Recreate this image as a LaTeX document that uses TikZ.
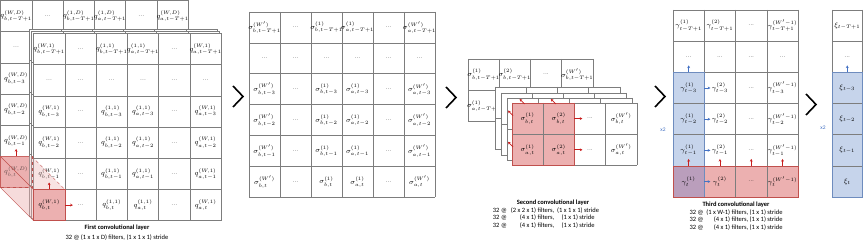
\documentclass[tikz,border=0pt]{standalone}
\usepackage{fontspec}
\usepackage{etoolbox}
\newfontfamily\capfont{Carlito}
\usetikzlibrary{arrows.meta}
\definecolor{gridgray}{RGB}{125,125,125}
\definecolor{pinkfill}{RGB}{236,176,176}
\definecolor{pinkedge}{RGB}{192,80,77}
\definecolor{arrred}{RGB}{200,30,30}
\definecolor{bluefill}{RGB}{198,212,235}
\definecolor{blueedge}{RGB}{110,140,190}
\definecolor{bluearr}{RGB}{68,114,196}
\definecolor{purplefill}{RGB}{186,158,188}
\def\cw{31.3}\def\rh{31.2}
\newcommand\dotstext{{\fontsize{5.5}{6}\selectfont ...}}
\newcommand\gridfill[4]{\fill[white] (#1,#2) rectangle ++({#3*\cw},{#4*\rh});}
\newcommand\gridlines[4]{%
  \foreach \iI in {0,...,#3} {\draw[gridline] ({#1+\iI*\cw},#2) -- ++(0,{#4*\rh});}
  \foreach \jJ in {0,...,#4} {\draw[gridline] (#1,{#2+\jJ*\rh}) -- ++({#3*\cw},0);}}
\newcommand\celltext[1]{\ifdefstring{\tM}{?}{\dotstext}{\ifdefstring{\cS}{?}{\dotstext}{#1{\cS}{\cB}{\tM}}}}
\newcommand\gridlabels[6]{%
  \foreach \tM [count=\rI from 0] in {#5} {%
    \foreach \cS/\cB [count=\cI from 0] in {#4} {%
      \node[cell] (#1-\rI-\cI) at ({#2+(\cI+0.5)*\cw},{#3+(\rI+0.5)*\rh}) {\celltext{#6}};
    }}}
\newcommand\fQD[3]{$q^{(#1,D)}_{#2,#3}$}
\newcommand\fQone[3]{$q^{(#1,1)}_{#2,#3}$}
\newcommand\fS[3]{$\sigma^{(#1)}_{#2,#3}$}
\newcommand\fSt[3]{$\sigma^{(#1)}_{#3}$}
\newcommand\fG[3]{$\gamma^{(#1)}_{#3}$}
\newcommand\fX[3]{$\xi_{#3}$}
\begin{document}
\begin{tikzpicture}[x=1pt,y=-1pt,
  gridline/.style={draw=gridgray,line width=0.6pt},
  cell/.style={inner sep=0pt,outer sep=0pt,minimum width={\cw*1pt},minimum height={\rh*1pt},font=\fontsize{7.4}{8}\selectfont},
  redarr/.style={draw=arrred,line width=0.7pt,-{Stealth[length=2.6pt,width=2.8pt]}},
  bluearrow/.style={draw=bluearr,line width=0.7pt,-{Stealth[length=2.6pt,width=2.8pt]}},
  chev/.style={draw=black,line width=1.6pt,miter limit=10},
  capt/.style={inner sep=0pt,font=\capfont\fontsize{6.5}{7.8}\selectfont},
  capttitle/.style={inner sep=0pt,font=\capfont\bfseries\fontsize{6.5}{7.8}\selectfont},
  xtwo/.style={inner sep=0pt,text=bluearr,font=\capfont\fontsize{5.5}{6}\selectfont}]
\useasboundingbox (0,0) rectangle (863,245);
\fill[white] (0,0) rectangle (863,245);
% ================= Panel 1 =================
\def\cw{31.3}\def\rh{31.2}
\gridfill{0.5}{0.5}{6}{6}
\fill[pinkfill] (0.5,156.5) rectangle ++(\cw,\rh);
\gridlines{0.5}{0.5}{6}{6}
\draw[pinkedge,line width=0.5pt] (0.5,156.5) rectangle ++(\cw,\rh);
\gridlabels{p1b}{0.5}{0.5}{W/b,?/?,1/b,1/a,?/?,W/a}{t-T+1}{\fQD}
\gridlabels{p1bl}{0.5}{31.7}{W/b}{?,t-3,t-2,t-1,t}{\fQD}
\gridfill{29.5}{29.5}{6}{6}
\gridlines{29.5}{29.5}{6}{6}
\gridfill{31.5}{31.5}{6}{6}
\gridlines{31.5}{31.5}{6}{6}
\gridfill{33.5}{33.5}{6}{6}
\gridlines{33.5}{33.5}{6}{6}
\gridlabels{p1f}{33.5}{33.5}{W/b,?/?,1/b,1/a,?/?,W/a}{t-T+1,?,t-3,t-2,t-1}{\fQone}
\gridlabels{p1fl}{33.5}{189.5}{W/b,?/?,1/b,1/a,?/?,W/a}{t}{\fQone}
% prism of the filter
\fill[pinkfill,opacity=0.45] (p1bl-4-0.north west) -- (p1fl-0-0.north west) -- (p1fl-0-0.south west) -- (p1bl-4-0.south west) -- cycle;
\fill[pinkfill,opacity=0.35] (p1bl-4-0.north west) -- (p1bl-4-0.north east) -- (p1fl-0-0.north east) -- (p1fl-0-0.north west) -- cycle;
\fill[pinkfill] (p1fl-0-0.north west) rectangle (p1fl-0-0.south east);
\path (p1fl-0-0) node[cell] (p1fpink) {$q^{(W,1)}_{b,t}$};
\draw[pinkedge,line width=0.5pt] (p1fl-0-0.north west) rectangle (p1fl-0-0.south east);
\draw[pinkedge,line width=0.4pt] (p1bl-4-0.north west) -- (p1fl-0-0.north west);
\draw[pinkedge,line width=0.4pt] (p1bl-4-0.south west) -- (p1fl-0-0.south west);
\draw[pinkedge,line width=0.4pt,dashed] (p1bl-4-0.north east) -- (p1fl-0-0.north east);
\draw[pinkedge,line width=0.4pt,dashed] (p1bl-4-0.south west) -- (p1bl-4-0.south east) -- (p1bl-4-0.north east);
\draw[redarr] (p1bl-4-0.north) ++(0,-0.5) -- ++(0,-7);
\draw[redarr] (p1fl-0-0.north) -- ++(0,-7);
\draw[redarr] (p1fl-0-0.east) -- ++(8,0);
\node[capttitle] (cap1t) at (117,228) {First convolutional layer};
\node[capt] (cap1b) at (117,237.5) {32 @ (1 x 1 x D) filters, (1 x 1 x 1) stride};
% chevron 1
\draw[chev] (233,86) -- (243,96.5) -- (233,107);
% ================= Panel 2 =================
\def\cw{31}\def\rh{30.9}
\gridfill{249}{12}{6}{6}
\gridlines{249}{12}{6}{6}
\gridlabels{p2}{249}{12}{W'/b,?/?,1/b,1/a,?/?,W'/a}{t-T+1,?,t-3,t-2,t-1,t}{\fS}
% chevron 2
\draw[chev] (446,87) -- (456,97.5) -- (446,108);
% ================= Panel 3 =================
\def\cw{31.2}\def\rh{31.2}
\gridfill{468}{59}{4}{2}
\gridlines{468}{59}{4}{2}
\gridlabels{p3b}{468}{59}{1/x,2/x,?/?,W'/x}{{b,t-T+1}}{\fSt}
\gridlabels{p3bl}{468}{90.2}{1/x}{{a,t-T+1}}{\fSt}
\gridfill{495}{87}{4}{2}
\gridlines{495}{87}{4}{2}
\gridfill{501}{93}{4}{2}
\gridlines{501}{93}{4}{2}
\gridfill{507}{98}{4}{2}
\gridlines{507}{98}{4}{2}
\gridfill{512}{103}{4}{2}
\fill[pinkfill] (512,103) rectangle ++({2*\cw},{2*\rh});
\gridlines{512}{103}{4}{2}
\draw[pinkedge,line width=0.6pt] (512,103) rectangle ++({2*\cw},{2*\rh});
\gridlabels{p3f}{512}{103}{1/x,2/x,?/?,W'/x}{{b,t},{a,t}}{\fSt}
\draw[redarr] ([shift={(-3,1)}]p3f-0-0.north) -- ++(-5,-5);
\draw[redarr] ([shift={(-3,1)}]p3f-0-1.north) -- ++(-5,-5);
\draw[redarr] ([shift={(1,-3)}]p3f-0-0.west) -- ++(-5,-5);
\draw[redarr] ([shift={(1,-3)}]p3f-1-0.west) -- ++(-5,-5);
\draw[redarr] (p3f-0-1.east) -- ++(8,0);
\draw[redarr] (p3f-1-1.east) -- ++(8,0);
\node[capttitle] (cap3t) at (553,203) {Second convolutional layer};
\node[capt,anchor=north] (cap3b) at (546,206.5) {\begin{tabular}{@{}l@{\hspace{4pt}}r@{\hspace{3pt}}c@{}}32 @ & (2 x 2 x 1) filters, & (1 x 1 x 1) stride\\ 32 @ & (4 x 1) filters, & (1 x 1) stride\\ 32 @ & (4 x 1) filters, & (1 x 1) stride\end{tabular}};
% chevron 3
\draw[chev] (655,86) -- (665,96.5) -- (655,107);
% ================= Panel 5 =================
\def\cw{31.3}\def\rh{31.2}
\gridfill{673}{10}{4}{6}
\fill[bluefill] (673,{10+2*\rh}) rectangle ++(\cw,{4*\rh});
\fill[pinkfill] ({673+\cw},{10+5*\rh}) rectangle ++({3*\cw},\rh);
\fill[purplefill] (673,{10+5*\rh}) rectangle ++(\cw,\rh);
\gridlines{673}{10}{4}{6}
\draw[blueedge,line width=0.6pt] (673,{10+2*\rh}) rectangle ++(\cw,{4*\rh});
\draw[pinkedge,line width=0.6pt] (673,{10+5*\rh}) rectangle ++({4*\cw},\rh);
\gridlabels{p5}{673}{10}{1/x,2/x,?/?,W'-1/x}{t-T+1,?,t-3,t-2,t-1,t}{\fG}
\draw[bluearrow] (p5-2-0.north) -- ++(0,-7);
\foreach \r in {2,3,4,5} {\draw[bluearrow] (p5-\r-0.east) -- ++(6,0);}
\foreach \c in {0,1,2,3} {\draw[redarr] (p5-5-\c.north) -- ++(0,-7);}
\node[xtwo] (x2a) at (663,130) {x2};
\node[capttitle] (cap5t) at (736,205) {Third convolutional layer};
\node[capt,anchor=north] (cap5b) at (736,208.5) {\begin{tabular}{@{}l@{\hspace{3pt}}r@{}}32 @ & (1 x W-1) filters, (1 x 1) stride\\ 32 @ & (4 x 1) filters, (1 x 1) stride\\ 32 @ & (4 x 1) filters, (1 x 1) stride\end{tabular}};
% chevron 4
\draw[chev] (806,94) -- (816,104.5) -- (806,115);
% ================= Panel 6 =================
\def\cw{30.5}\def\rh{31.2}
\gridfill{832}{10}{1}{6}
\fill[bluefill] (832,{10+2*\rh}) rectangle ++(\cw,{4*\rh});
\gridlines{832}{10}{1}{6}
\draw[blueedge,line width=0.6pt] (832,{10+2*\rh}) rectangle ++(\cw,{4*\rh});
\gridlabels{p6}{832}{10}{x/x}{t-T+1,?,t-3,t-2,t-1,t}{\fX}
\draw[bluearrow] (p6-2-0.north) -- ++(0,-7);
\node[xtwo] (x2b) at (823,128) {x2};
\end{tikzpicture}
\end{document}
